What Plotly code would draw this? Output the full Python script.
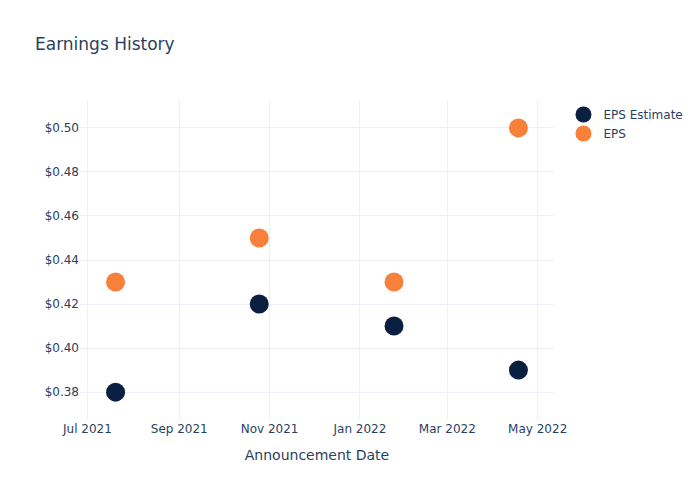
import plotly.graph_objects as go

dates = ["2021-07-20", "2021-10-25", "2022-01-24", "2022-04-18"]
eps_estimate = [0.38, 0.42, 0.41, 0.39]
eps_actual = [0.43, 0.45, 0.43, 0.50]

fig = go.Figure()
fig.add_trace(go.Scatter(x=dates, y=eps_estimate, mode="markers", name="EPS Estimate",
                         marker=dict(color="#0b1f40", size=19)))
fig.add_trace(go.Scatter(x=dates, y=eps_actual, mode="markers", name="EPS",
                         marker=dict(color="#f7803a", size=19)))
fig.update_layout(
    template="plotly_white",
    width=700, height=500,
    font=dict(family="DejaVu Sans"),
    title=dict(text="Earnings History"),
    xaxis=dict(title=dict(text="Announcement Date"), tickformat="%b %Y", dtick="M2"),
    yaxis=dict(tickprefix="$", tickformat=".2f"),
)
fig.write_html("out.html")
